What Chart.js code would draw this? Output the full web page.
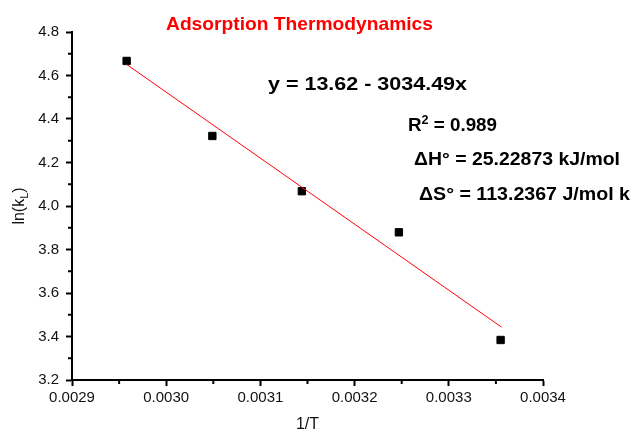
<!DOCTYPE html>
<html>
<head>
<meta charset="utf-8">
<script src="https://cdn.jsdelivr.net/npm/chart.js@4/dist/chart.umd.min.js"></script>
<style>
  html, body { margin: 0; padding: 0; background: #fff; }
  #wrap { width: 634px; height: 431px; }
</style>
</head>
<body>
<div id="wrap"><canvas id="grafico"></canvas></div>
<script>
// ── DATOS ──────────────────────────────────────────────
const invT = [0.002958, 0.003049, 0.003144, 0.003247, 0.003355];
const lnK = [4.667, 4.322, 4.068, 3.879, 3.384];

// recta de ajuste (extremos)
const fitX = [0.002958, 0.003356];
const fitY = [4.651, 3.443];

const xTicks = [0.0029, 0.0030, 0.0031, 0.0032, 0.0033, 0.0034];
const yTicks = [3.2, 3.4, 3.6, 3.8, 4.0, 4.2, 4.4, 4.6, 4.8];

const titulo = "Adsorption Thermodynamics";
const ecuacion = "y = 13.62 - 3034.49x";
const r2 = "0.989";
const deltaH = "ΔH° = 25.22873 kJ/mol";
const deltaS = "ΔS° = 113.2367 J/mol k";

const FUENTE = "'Liberation Sans', Arial, sans-serif";

// texto estirado en horizontal hasta un ancho dado
function textoAncho(ctx, partes, x, y, ancho) {
  let total = 0;
  partes.forEach(p => { ctx.font = p.font; total += ctx.measureText(p.t).width; });
  ctx.save();
  ctx.translate(x, y);
  ctx.scale(ancho / total, 1);
  let sx = 0;
  partes.forEach(p => {
    ctx.font = p.font;
    ctx.fillText(p.t, sx, p.dy || 0);
    sx += ctx.measureText(p.t).width;
  });
  ctx.restore();
}

// ── PLUGIN: textos y ticks menores ─────────────────────
const textos = {
  id: "textos",
  afterDraw(chart) {
    const ctx = chart.ctx;
    const xs = chart.scales.x, ys = chart.scales.y;
    ctx.save();

    // ticks menores
    ctx.strokeStyle = "#000";
    ctx.lineWidth = 2;
    for (let i = 0; i < xTicks.length - 1; i++) {
      const px = xs.getPixelForValue((xTicks[i] + xTicks[i + 1]) / 2);
      ctx.beginPath(); ctx.moveTo(px, xs.top); ctx.lineTo(px, xs.top + 4); ctx.stroke();
    }
    for (let i = 0; i < yTicks.length - 1; i++) {
      const py = ys.getPixelForValue((yTicks[i] + yTicks[i + 1]) / 2);
      ctx.beginPath(); ctx.moveTo(ys.right, py); ctx.lineTo(ys.right - 4, py); ctx.stroke();
    }

    ctx.textAlign = "left";
    ctx.textBaseline = "alphabetic";

    // título
    ctx.fillStyle = "#ff0000";
    const fT = "bold 19px " + FUENTE;
    textoAncho(ctx, [{ t: titulo, font: fT }], 166, 30, 267);

    // anotaciones
    ctx.fillStyle = "#000";
    const fB = "bold 18px " + FUENTE;
    const fS = "bold 12px " + FUENTE;
    textoAncho(ctx, [{ t: ecuacion, font: fB }], 268, 90, 199);
    textoAncho(ctx, [{ t: "R", font: fB }, { t: "2", font: fS, dy: -7 }, { t: " = " + r2, font: fB }], 408, 131, 89);
    textoAncho(ctx, [{ t: deltaH, font: fB }], 414, 165, 206);
    textoAncho(ctx, [{ t: deltaS, font: fB }], 419, 200, 211);

    // título eje x
    ctx.font = "16px " + FUENTE;
    ctx.textAlign = "center";
    ctx.fillStyle = "#111";
    ctx.fillText("1/T", (xs.left + xs.right) / 2, 429);

    // título eje y: ln(kL)
    ctx.translate(24, (ys.top + ys.bottom) / 2);
    ctx.rotate(-Math.PI / 2);
    const p1 = "ln(k", sub = "L", p2 = ")";
    ctx.font = "16px " + FUENTE;
    const w1 = ctx.measureText(p1).width, w3 = ctx.measureText(p2).width;
    ctx.font = "11px " + FUENTE;
    const w2 = ctx.measureText(sub).width;
    let sx = -(w1 + w2 + w3) / 2;
    ctx.textAlign = "left";
    ctx.font = "16px " + FUENTE;
    ctx.fillText(p1, sx, 0); sx += w1;
    ctx.font = "11px " + FUENTE;
    ctx.fillText(sub, sx, 4); sx += w2;
    ctx.font = "16px " + FUENTE;
    ctx.fillText(p2, sx, 0);

    ctx.restore();
  }
};

// ── GRÁFICO ────────────────────────────────────────────
const ctx = document.getElementById("grafico").getContext("2d");
new Chart(ctx, {
  type: "scatter",
  data: {
    datasets: [
      {
        label: "Ajuste",
        data: fitX.map((v, i) => ({ x: v, y: fitY[i] })),
        showLine: true,
        borderColor: "#ff0000",
        borderWidth: 1,
        pointRadius: 0,
        fill: false,
      },
      {
        label: "ln(kL)",
        data: invT.map((v, i) => ({ x: v, y: lnK[i] })),
        pointStyle: "rect",
        pointRadius: 5.2,
        backgroundColor: "#000",
        borderColor: "#000",
        borderWidth: 1,
      },
    ],
  },
  plugins: [textos],
  options: {
    responsive: true,
    maintainAspectRatio: false,
    animation: false,
    layout: { padding: { top: 32, right: 91, left: 0, bottom: 0 } },
    plugins: { legend: { display: false }, tooltip: { enabled: false }, title: { display: false } },
    scales: {
      x: {
        type: "linear",
        min: xTicks[0],
        max: xTicks[xTicks.length - 1],
        afterBuildTicks: s => { s.ticks = xTicks.map(v => ({ value: v })); },
        afterFit: s => { s.height = 51; },
        ticks: {
          color: "#111",
          padding: 3,
          maxRotation: 0,
          font: { size: 15, family: FUENTE },
          callback: v => Number(v).toFixed(4),
        },
        grid: { drawOnChartArea: false, tickLength: 6, tickWidth: 2, tickColor: "#000" },
        border: { color: "#000", width: 2 },
      },
      y: {
        min: yTicks[0],
        max: yTicks[yTicks.length - 1],
        afterBuildTicks: s => { s.ticks = yTicks.map(v => ({ value: v })); },
        afterFit: s => { s.width = 72; },
        ticks: {
          color: "#111",
          padding: 7,
          font: { size: 15, family: FUENTE },
          callback: v => Number(v).toFixed(1),
        },
        grid: { drawOnChartArea: false, tickLength: 6, tickWidth: 2, tickColor: "#000" },
        border: { color: "#000", width: 2 },
      },
    },
  },
});
</script>
</body>
</html>
